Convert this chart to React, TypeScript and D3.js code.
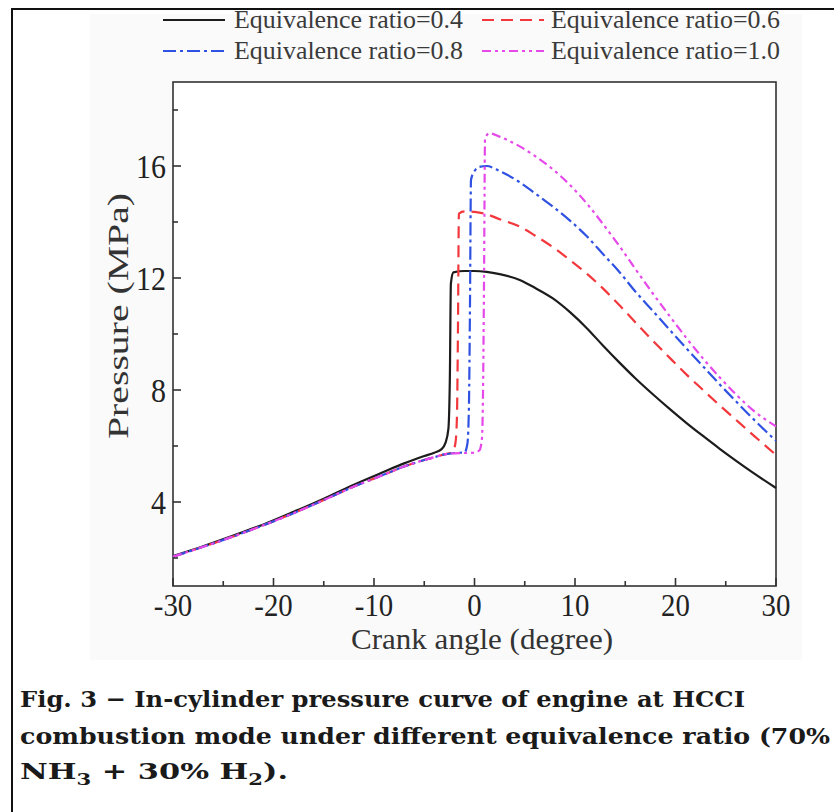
import React from "react";
import * as d3 from "d3";

// ---- Data ----
const angle04 = [-30, -27, -24, -21, -18, -15, -12, -9, -7, -5, -4, -3.3, -2.9, -2.6, -2.45, -2.35, -2.1, -1, 0, 1.2, 2.5, 4.5, 6, 7.8, 9.5, 11.2, 12.8, 14.5, 16, 17.8, 19.5, 21.1, 22.8, 24.4, 26, 27.7, 30];
const pressure04 = [2.07, 2.42, 2.8, 3.2, 3.65, 4.12, 4.62, 5.08, 5.38, 5.64, 5.76, 5.88, 6.1, 6.6, 8.5, 11.8, 12.2, 12.25, 12.25, 12.22, 12.14, 11.93, 11.65, 11.27, 10.78, 10.2, 9.58, 8.95, 8.42, 7.83, 7.3, 6.82, 6.34, 5.9, 5.48, 5.05, 4.5];

const angle06 = [-30, -27, -24, -21, -18, -15, -12, -9, -7, -5, -4, -3, -2.2, -1.9, -1.75, -1.65, -1.55, -1, 0, 1, 2.5, 4.5, 6, 7.8, 9.5, 11.2, 12.8, 14.5, 16, 17.8, 19.5, 21.1, 22.8, 24.4, 26, 27.7, 30];
const pressure06 = [2.05, 2.4, 2.77, 3.17, 3.6, 4.07, 4.55, 4.98, 5.27, 5.5, 5.6, 5.7, 5.78, 6.1, 7, 10, 14.3, 14.38, 14.36, 14.3, 14.1, 13.84, 13.52, 13.1, 12.64, 12.15, 11.62, 11.0, 10.42, 9.74, 9.12, 8.55, 7.98, 7.45, 6.94, 6.4, 5.68];

const angle08 = [-30, -27, -24, -21, -18, -15, -12, -9, -7, -5, -4, -3, -2, -1, -0.7, -0.55, -0.45, -0.35, 0, 0.5, 1.2, 2.5, 4.5, 6, 7.8, 9.5, 11.2, 12.8, 14.5, 16, 17.8, 19.5, 21.1, 22.8, 24.4, 26, 27.7, 30];
const pressure08 = [2.05, 2.4, 2.77, 3.17, 3.6, 4.07, 4.55, 4.98, 5.27, 5.5, 5.6, 5.7, 5.75, 5.77, 6.1, 7.5, 11, 15.5, 15.82, 15.97, 16.0, 15.82, 15.42, 15.03, 14.55, 14.05, 13.48, 12.85, 12.18, 11.52, 10.8, 10.12, 9.48, 8.82, 8.2, 7.6, 6.98, 6.18];

const angle10 = [-30, -27, -24, -21, -18, -15, -12, -9, -7, -5, -4, -3, -2, -1, 0, 0.5, 0.75, 0.85, 0.95, 1.05, 1.5, 2.5, 4.5, 6, 7.8, 9.5, 11.2, 12.8, 14.5, 16, 17.8, 19.5, 21.1, 22.8, 24.4, 26, 27.7, 30];
const pressure10 = [2.05, 2.4, 2.77, 3.17, 3.6, 4.07, 4.55, 4.98, 5.27, 5.5, 5.6, 5.7, 5.74, 5.75, 5.76, 5.85, 6.3, 8, 12, 17.0, 17.17, 17.05, 16.7, 16.36, 15.88, 15.32, 14.65, 13.92, 13.1, 12.33, 11.42, 10.6, 9.85, 9.1, 8.45, 7.85, 7.28, 6.7];

const seriesNames = ["Equivalence ratio=0.4", "Equivalence ratio=0.6", "Equivalence ratio=0.8", "Equivalence ratio=1.0"];
const xTicks = [-30, -20, -10, 0, 10, 20, 30];
const xMinorTicks = [-25, -15, -5, 5, 15, 25];
const yTicks = [4, 8, 12, 16];
const yMinorTicks = [2, 6, 10, 14, 18];
const xLabel = "Crank angle (degree)";
const yLabel = "Pressure (MPa)";

// ---- Styles ----
const styles = [
  { color: "#1c1c1c", dash: "none" },
  { color: "#f2383c", dash: "12 7" },
  { color: "#3052e2", dash: "13 4 3 4" },
  { color: "#e648ea", dash: "9 4 3 4 3 4" },
];

const FIG_FONT = "'Liberation Serif', 'Times New Roman', serif";
const CAP_FONT = "'DejaVu Serif', serif";

export default function App() {
  const left = 173, right = 776, top = 82, bottom = 586;
  const x = d3.scaleLinear().domain([-30, 30]).range([left, right]);
  const y = d3.scaleLinear().domain([1, 19]).range([bottom, top]);

  const line = d3
    .line<[number, number]>()
    .x((d) => x(d[0]))
    .y((d) => y(d[1]))
    .curve(d3.curveMonotoneX);

  const data: [number, number][][] = [
    angle04.map((a, i) => [a, pressure04[i]]),
    angle06.map((a, i) => [a, pressure06[i]]),
    angle08.map((a, i) => [a, pressure08[i]]),
    angle10.map((a, i) => [a, pressure10[i]]),
  ];

  const legendPos = [
    { lx: 163, tx: 234, cy: 20 },
    { lx: 482, tx: 551, cy: 20 },
    { lx: 163, tx: 234, cy: 51 },
    { lx: 482, tx: 551, cy: 51 },
  ];

  return (
    <svg width={834} height={812} style={{ position: "absolute", left: 0, top: 0, background: "#fff" }}>
      <rect x={0} y={0} width={834} height={812} fill="#fff" />
      <rect x={90} y={14} width={712} height={646} fill="#fafafa" />
      {/* outer frame */}
      <line x1={12} y1={9} x2={834} y2={9} stroke="#111" strokeWidth={2} />
      <line x1={12} y1={8} x2={12} y2={812} stroke="#111" strokeWidth={2} />

      {/* legend */}
      {seriesNames.map((name, i) => (
        <g key={name}>
          <line
            x1={legendPos[i].lx}
            x2={legendPos[i].lx + 62}
            y1={legendPos[i].cy}
            y2={legendPos[i].cy}
            stroke={styles[i].color}
            strokeWidth={2}
            strokeDasharray={styles[i].dash}
          />
          <text
            x={legendPos[i].tx}
            y={legendPos[i].cy + 8}
            fontFamily={FIG_FONT}
            fontSize={25}
            fill="#3a3a3a"
            textLength={229}
            lengthAdjust="spacingAndGlyphs"
          >
            {name}
          </text>
        </g>
      ))}

      {/* plot frame */}
      <rect x={left} y={top} width={right - left} height={bottom - top} fill="#fff" stroke="#333" strokeWidth={1.6} />

      {/* curves */}
      <g>
        {data.map((d, i) => (
          <path
            key={i}
            d={line(d) || ""}
            fill="none"
            stroke={styles[i].color}
            strokeWidth={2.2}
            strokeDasharray={styles[i].dash}
            strokeLinejoin="round"
          />
        ))}
      </g>

      {/* x ticks */}
      {xTicks.map((t) => (
        <g key={"xt" + t}>
          <line x1={x(t)} x2={x(t)} y1={bottom} y2={bottom - 8} stroke="#333" strokeWidth={1.6} />
          <text
            x={x(t)}
            y={616}
            textAnchor="middle"
            fontFamily={FIG_FONT}
            fontSize={32}
            fill="#222"
            transform={`translate(${x(t)},0) scale(0.9,1) translate(${-x(t)},0)`}
          >
            {t}
          </text>
        </g>
      ))}
      {xMinorTicks.map((t) => (
        <line key={"xm" + t} x1={x(t)} x2={x(t)} y1={bottom} y2={bottom - 5} stroke="#333" strokeWidth={1.6} />
      ))}

      {/* y ticks */}
      {yTicks.map((t) => (
        <g key={"yt" + t}>
          <line x1={left} x2={left + 8} y1={y(t)} y2={y(t)} stroke="#333" strokeWidth={1.6} />
          <text
            x={166}
            y={y(t) + 12}
            textAnchor="end"
            fontFamily={FIG_FONT}
            fontSize={34}
            fill="#222"
            transform={`translate(166,0) scale(0.88,1) translate(-166,0)`}
          >
            {t}
          </text>
        </g>
      ))}
      {yMinorTicks.map((t) => (
        <line key={"ym" + t} x1={left} x2={left + 5} y1={y(t)} y2={y(t)} stroke="#333" strokeWidth={1.6} />
      ))}

      {/* axis titles */}
      <text
        x={482}
        y={649}
        textAnchor="middle"
        fontFamily={FIG_FONT}
        fontSize={29}
        fill="#333"
        textLength={262}
        lengthAdjust="spacingAndGlyphs"
      >
        {xLabel}
      </text>
      <text
        transform="translate(128,316) scale(0.82,1) rotate(-90)"
        x={0}
        y={0}
        textAnchor="middle"
        fontFamily={FIG_FONT}
        fontSize={36}
        fill="#333"
        textLength={246}
        lengthAdjust="spacingAndGlyphs"
      >
        {yLabel}
      </text>

      {/* caption */}
      <g fontFamily={CAP_FONT} fontWeight="bold" fontSize={23} fill="#1a1a1a">
        <text x={20} y={707} textLength={725} lengthAdjust="spacingAndGlyphs">
          Fig. 3 − In-cylinder pressure curve of engine at HCCI
        </text>
        <text x={20} y={744} textLength={810} lengthAdjust="spacingAndGlyphs">
          combustion mode under different equivalence ratio (70%
        </text>
        <text x={20} y={779} textLength={268} lengthAdjust="spacingAndGlyphs">
          NH<tspan fontSize={16} dy={6}>3</tspan>
          <tspan dy={-6}> + 30% H</tspan>
          <tspan fontSize={16} dy={6}>2</tspan>
          <tspan dy={-6}>).</tspan>
        </text>
      </g>
    </svg>
  );
}
